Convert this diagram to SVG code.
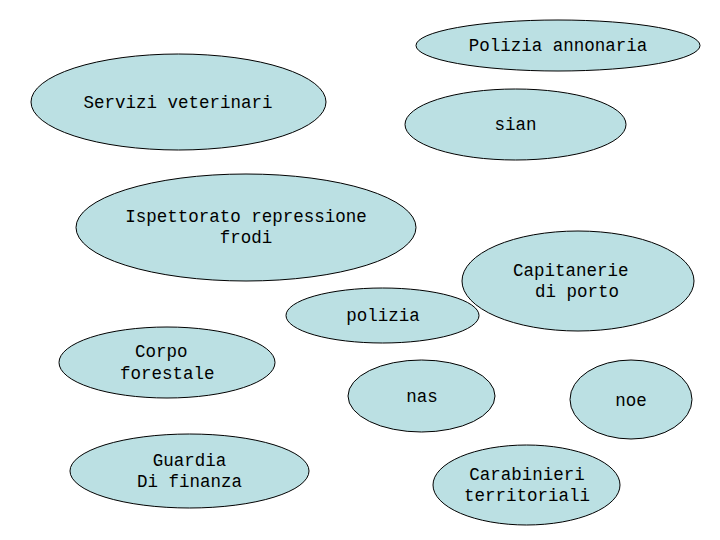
<svg xmlns="http://www.w3.org/2000/svg" width="720" height="540" viewBox="0 0 720 540">
<style>
.n ellipse{fill:#bbe0e3;stroke:#000;stroke-width:1}
.n text{font-family:"Liberation Mono","Courier New",monospace;font-size:17.5px;fill:#000;text-anchor:middle}
.n text.l{text-anchor:start}
</style>
<rect width="720" height="540" fill="#fff"/>
<g id="connectors"/>
<g id="polizia-annonaria" class="n"><ellipse cx="558" cy="45.5" rx="142" ry="25.5"/><text x="558" y="51">Polizia annonaria</text></g>
<g id="servizi-veterinari" class="n"><ellipse cx="178.5" cy="102" rx="147.5" ry="48"/><text x="178" y="108">Servizi veterinari</text></g>
<g id="sian" class="n"><ellipse cx="515.5" cy="124.5" rx="110.5" ry="35.5"/><text x="515.5" y="130">sian</text></g>
<g id="ispettorato" class="n"><ellipse cx="246" cy="227.5" rx="170" ry="53.5"/><text x="246" y="222">Ispettorato repressione</text><text x="246" y="243">frodi</text></g>
<g id="capitanerie" class="n"><ellipse cx="578" cy="281" rx="116" ry="50"/><text class="l" x="513" y="276">Capitanerie</text><text class="l" x="535" y="297">di porto</text></g>
<g id="polizia" class="n"><ellipse cx="382.5" cy="315.5" rx="96.5" ry="27.5"/><text x="383" y="321">polizia</text></g>
<g id="corpo-forestale" class="n"><ellipse cx="167" cy="362.5" rx="108" ry="35.5"/><text class="l" x="135" y="357">Corpo</text><text class="l" x="120" y="379">forestale</text></g>
<g id="nas" class="n"><ellipse cx="421.5" cy="396" rx="73.5" ry="36"/><text x="422" y="402">nas</text></g>
<g id="noe" class="n"><ellipse cx="631" cy="399.5" rx="61" ry="39.5"/><text x="631" y="406">noe</text></g>
<g id="guardia-di-finanza" class="n"><ellipse cx="189.5" cy="471" rx="119.5" ry="37"/><text x="189.5" y="466">Guardia</text><text x="189.5" y="487">Di finanza</text></g>
<g id="carabinieri" class="n"><ellipse cx="526.5" cy="485" rx="93.5" ry="40"/><text x="527" y="480">Carabinieri</text><text x="527" y="501">territoriali</text></g>
</svg>
